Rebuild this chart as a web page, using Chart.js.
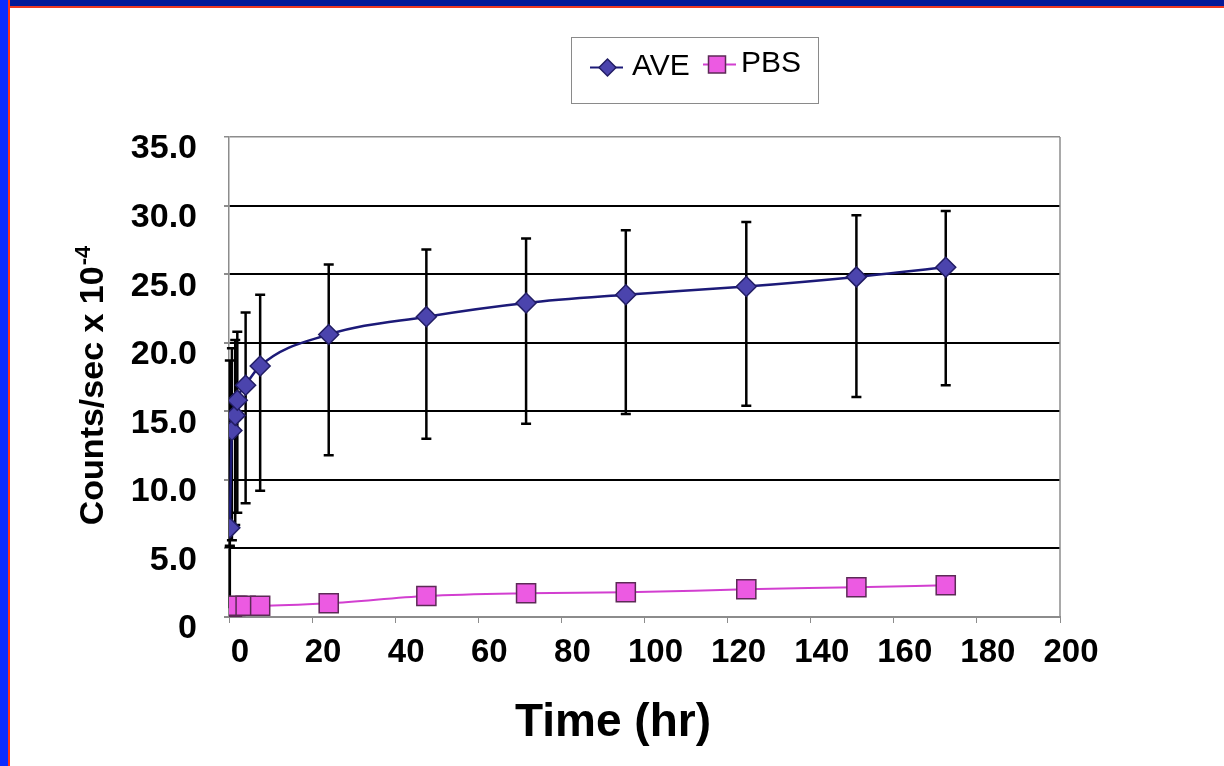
<!DOCTYPE html>
<html>
<head>
<meta charset="utf-8">
<title>AVE vs PBS counts</title>
<script src="https://cdn.jsdelivr.net/npm/chart.js@4.4.1/dist/chart.umd.min.js"></script>
<style>
  html, body { margin: 0; padding: 0; background: #fff; }
  body { width: 1224px; height: 766px; position: relative; overflow: hidden; }
  #wrap { position: absolute; left: 0; top: 0; width: 1224px; height: 766px; }
  .bar-top { position: absolute; left: 0; top: 0; width: 1224px; height: 6px; background: #031a98; border-bottom: 2px solid #ee3a22; z-index: 2; }
  .bar-left { position: absolute; left: 0; top: 0; width: 8px; height: 766px; background: #0a2cff; border-right: 2px solid #ff3514; z-index: 3; }
</style>
</head>
<body>
<div class="bar-top"></div>
<div class="bar-left"></div>
<div id="wrap"><canvas id="countsChart"></canvas></div>
<script>
/* ── data ────────────────────────────────────── */
const hours      = [0.2, 0.7, 1.5, 2, 4, 7.5, 24, 47.5, 71.5, 95.5, 124.5, 151, 172.5];
const aveCounts  = [6.5, 13.6, 14.7, 15.8, 16.9, 18.3, 20.6, 21.9, 22.9, 23.5, 24.1, 24.8, 25.5];
const aveErrUp   = [12.2, 6.0, 5.5, 5.0, 5.3, 5.2, 5.1, 4.9, 4.7, 4.7, 4.7, 4.5, 4.1];
const aveErrDown = [1.3, 8.0, 8.0, 8.2, 8.6, 9.1, 8.8, 8.9, 8.8, 8.7, 8.7, 8.75, 8.6];
const pbsCounts  = [0.63, 0.75, 0.8, 0.82, 0.82, 0.82, 1.0, 1.53, 1.73, 1.8, 2.02, 2.17, 2.31];
const pbsErrUp   = [4.5, 0, 0, 0, 0, 0, 0, 0, 0, 0, 0, 0, 0];
const pbsErrDown = [0, 0, 0, 0, 0, 0, 0, 0, 0, 0, 0, 0, 0];
const xTicks = { min: 0, max: 200, step: 20 };
const yTicks = { min: 0, max: 35, step: 5 };

const FONT = "'Liberation Sans', Arial, sans-serif";
const COL = {
  aveLine: '#1c1a78', aveFill: '#4b44ad', aveEdge: '#221d64',
  pbsLine: '#d23fd0', pbsFill: '#ec5ae2', pbsEdge: '#5c2a56',
  grid: '#000', frame: '#8c8c8c',
};

const toPoints = (ys) => hours.map((h, i) => ({ x: h, y: ys[i] }));

// ── error bars, plot frame, legend box, axis titles ──
const decor = {
  id: 'decor',
  beforeDatasetsDraw(chart) {
    const { ctx, chartArea: a, scales: { x, y } } = chart;
    ctx.save();
    ctx.strokeStyle = COL.frame;
    ctx.lineWidth = 1.5;
    ctx.beginPath();
    ctx.moveTo(a.right, a.top); ctx.lineTo(a.right, a.bottom);
    ctx.stroke();

    ctx.strokeStyle = '#000';
    ctx.lineWidth = 2.5;
    chart.data.datasets.forEach((ds) => {
      ds.data.forEach((p, j) => {
        const up = ds.errUp[j], dn = ds.errDown[j];
        if (!up && !dn) return;
        const px = x.getPixelForValue(p.x);
        const top = y.getPixelForValue(p.y + up);
        const bot = y.getPixelForValue(p.y - dn);
        ctx.beginPath();
        ctx.moveTo(px, top); ctx.lineTo(px, bot);
        if (up) { ctx.moveTo(px - 5, top); ctx.lineTo(px + 5, top); }
        if (dn) { ctx.moveTo(px - 5, bot); ctx.lineTo(px + 5, bot); }
        ctx.stroke();
      });
    });
    ctx.restore();
  },
  afterDraw(chart) {
    const { ctx } = chart;
    const [ave, pbs] = chart.data.datasets;
    ctx.save();

    // legend
    ctx.fillStyle = '#fff';
    ctx.fillRect(571.5, 37.5, 247, 66);
    ctx.strokeStyle = '#8a8a8a';
    ctx.lineWidth = 1;
    ctx.strokeRect(571.5, 37.5, 247, 66);

    ctx.strokeStyle = ave.borderColor; ctx.lineWidth = 2;
    ctx.beginPath(); ctx.moveTo(590, 67.5); ctx.lineTo(623, 67.5); ctx.stroke();
    ctx.beginPath();
    ctx.moveTo(599, 67.5); ctx.lineTo(607.5, 59); ctx.lineTo(616, 67.5); ctx.lineTo(607.5, 76);
    ctx.closePath();
    ctx.fillStyle = ave.pointBackgroundColor; ctx.fill();
    ctx.strokeStyle = ave.pointBorderColor; ctx.lineWidth = 1.5; ctx.stroke();

    ctx.strokeStyle = pbs.borderColor; ctx.lineWidth = 2;
    ctx.beginPath(); ctx.moveTo(703, 64.5); ctx.lineTo(736, 64.5); ctx.stroke();
    ctx.fillStyle = pbs.pointBackgroundColor;
    ctx.fillRect(708.5, 56, 17, 17);
    ctx.strokeStyle = pbs.pointBorderColor; ctx.lineWidth = 1.5;
    ctx.strokeRect(708.5, 56, 17, 17);

    ctx.fillStyle = '#000';
    ctx.font = `30px ${FONT}`;
    ctx.textAlign = 'left';
    ctx.textBaseline = 'alphabetic';
    ctx.fillText(ave.label, 632, 74.5);
    ctx.fillText(pbs.label, 741, 72);

    // x title
    ctx.font = `bold 46px ${FONT}`;
    ctx.textAlign = 'center';
    ctx.fillText('Time (hr)', 613, 736);

    // y title with superscript
    ctx.translate(103, 386);
    ctx.rotate(-Math.PI / 2);
    ctx.font = `bold 34px ${FONT}`;
    const main = 'Counts/sec x 10';
    const wMain = ctx.measureText(main).width;
    ctx.font = `bold 22px ${FONT}`;
    const wSup = ctx.measureText('-4').width;
    const start = -(wMain + wSup) / 2;
    ctx.textAlign = 'left';
    ctx.font = `bold 34px ${FONT}`;
    ctx.fillText(main, start, 0);
    ctx.font = `bold 22px ${FONT}`;
    ctx.fillText('-4', start + wMain + 1, -13);
    ctx.restore();
  },
};

new Chart(document.getElementById('countsChart'), {
  type: 'line',
  data: {
    datasets: [
      {
        label: 'AVE',
        data: toPoints(aveCounts),
        errUp: aveErrUp,
        errDown: aveErrDown,
        borderColor: COL.aveLine,
        borderWidth: 2.5,
        pointStyle: 'rectRot',
        pointRadius: 10,
        pointBackgroundColor: COL.aveFill,
        pointBorderColor: COL.aveEdge,
        pointBorderWidth: 1.5,
        cubicInterpolationMode: 'monotone',
        fill: false,
      },
      {
        label: 'PBS',
        data: toPoints(pbsCounts),
        errUp: pbsErrUp,
        errDown: pbsErrDown,
        borderColor: COL.pbsLine,
        borderWidth: 2,
        pointStyle: 'rect',
        pointRadius: 13.5,
        pointBackgroundColor: COL.pbsFill,
        pointBorderColor: COL.pbsEdge,
        pointBorderWidth: 1.5,
        cubicInterpolationMode: 'monotone',
        fill: false,
      },
    ],
  },
  options: {
    responsive: true,
    maintainAspectRatio: false,
    animation: false,
    layout: { padding: { top: 137, right: 164, bottom: 0, left: 0 } },
    plugins: {
      legend: { display: false },
      tooltip: { enabled: false },
    },
    scales: {
      x: {
        type: 'linear',
        min: xTicks.min,
        max: xTicks.max,
        afterFit: (s) => { s.height = 149; },
        ticks: {
          stepSize: xTicks.step,
          color: '#000',
          padding: 10,
          labelOffset: 11,
          maxRotation: 0,
          font: { family: FONT, size: 33, weight: 'bold' },
        },
        grid: { drawOnChartArea: false, drawTicks: true, tickLength: 6, tickColor: '#8c8c8c' },
        border: { color: COL.frame, width: 2 },
      },
      y: {
        min: yTicks.min,
        max: yTicks.max,
        afterFit: (s) => { s.width = 229; },
        ticks: {
          stepSize: yTicks.step,
          color: '#000',
          padding: 27,
          labelOffset: 12,
          font: { family: FONT, size: 34, weight: 'bold' },
          callback: (v) => (v === 0 ? '0' : v.toFixed(1)),
        },
        grid: {
          color: (c) => (c.tick && (c.tick.value === yTicks.max || c.tick.value === 0) ? COL.frame : COL.grid),
          lineWidth: (c) => (c.tick && c.tick.value === yTicks.max ? 1.5 : 2),
          tickLength: 5,
          tickColor: '#8c8c8c',
        },
        border: { color: COL.frame, width: 1.5 },
      },
    },
  },
  plugins: [decor],
});
</script>
</body>
</html>
